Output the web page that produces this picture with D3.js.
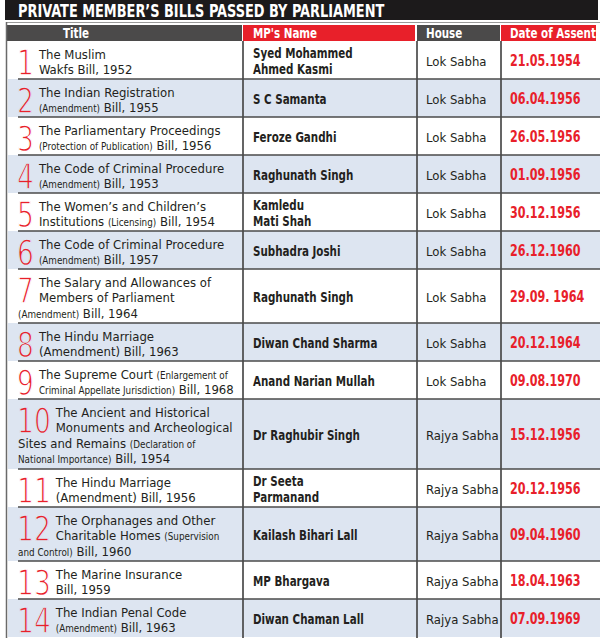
<!DOCTYPE html>
<html>
<head>
<meta charset="utf-8">
<script src="https://cdn.jsdelivr.net/npm/d3@7"></script>
<style>
  body { margin: 0; background: #fff; }
</style>
</head>
<body>
<div id="chart"></div>
<script>
var chartTitle = "PRIVATE MEMBER\u2019S BILLS PASSED BY PARLIAMENT";
var headers = ["Title", "MP's Name", "House", "Date of Assent"];

var billNumbers = ["1","2","3","4","5","6","7","8","9","10","11","12","13","14"];

// {...} marks the small print inside a bill title
var billTitles = [
    ["The Muslim", "Wakfs Bill, 1952"],
    ["The Indian Registration", "{(Amendment)} Bill, 1955"],
    ["The Parliamentary Proceedings", "{(Protection of Publication)} Bill, 1956"],
    ["The Code of Criminal Procedure", "{(Amendment)} Bill, 1953"],
    ["The Women\u2019s and Children\u2019s", "Institutions {(Licensing)} Bill, 1954"],
    ["The Code of Criminal Procedure", "{(Amendment)} Bill, 1957"],
    ["The Salary and Allowances of", "Members of Parliament", "{(Amendment)} Bill, 1964"],
    ["The Hindu Marriage", "(Amendment) Bill, 1963"],
    ["The Supreme Court {(Enlargement of}", "{Criminal Appellate Jurisdiction)} Bill, 1968"],
    ["The Ancient and Historical", "Monuments and Archeological", "Sites and Remains {(Declaration of}", "{National Importance)} Bill, 1954"],
    ["The Hindu Marriage", "(Amendment) Bill, 1956"],
    ["The Orphanages and Other", "Charitable Homes {(Supervision}", "{and Control)} Bill, 1960"],
    ["The Marine Insurance", "Bill, 1959"],
    ["The Indian Penal Code", "{(Amendment)} Bill, 1963"]
];

var mpNames = [
    ["Syed Mohammed", "Ahmed Kasmi"],
    ["S C Samanta"],
    ["Feroze Gandhi"],
    ["Raghunath Singh"],
    ["Kamledu", "Mati Shah"],
    ["Subhadra Joshi"],
    ["Raghunath Singh"],
    ["Diwan Chand Sharma"],
    ["Anand Narian Mullah"],
    ["Dr Raghubir Singh"],
    ["Dr Seeta", "Parmanand"],
    ["Kailash Bihari Lall"],
    ["MP Bhargava"],
    ["Diwan Chaman Lall"]
];

var houses = ["Lok Sabha","Lok Sabha","Lok Sabha","Lok Sabha","Lok Sabha","Lok Sabha","Lok Sabha",
              "Lok Sabha","Lok Sabha","Rajya Sabha","Rajya Sabha","Rajya Sabha","Rajya Sabha","Rajya Sabha"];

var assentDates = ["21.05.1954","06.04.1956","26.05.1956","01.09.1956","30.12.1956","26.12.1960","29.09. 1964",
                   "20.12.1964","09.08.1970","15.12.1956","20.12.1956","09.04.1960","18.04.1963","07.09.1969"];

function init(){

    var w = 600;
    var h = 638;
    var red = "#e8202a";
    var blue = "#dde5f1";
    var ink = "#231f20";
    var lineCol = "#4a4a4a";
    var cond = "'DejaVu Sans Condensed', 'DejaVu Sans', sans-serif";

    // squeeze a text horizontally (no narrow font installed)
    function squeeze(x, y, k){
        return "translate(" + x + "," + y + ") scale(" + k + ",1)";
    }

    // column edges
    var colX = d3.scaleOrdinal().domain(headers).range([7, 243, 417, 501]);
    var colEnd = d3.scaleOrdinal().domain(headers).range([243, 416, 501, 597]);
    var textX = d3.scaleOrdinal().domain(headers).range([63, 253, 426, 510]);

    var bodyTop = 41;
    var heights = billTitles.map(function(t){ return 6 + 16 * t.length; });
    var tops = [bodyTop].concat(Array.from(d3.cumsum(heights), function(c){ return bodyTop + c; }));

    var rows = billNumbers.map(function(n, i){
        return {no: n, title: billTitles[i], name: mpNames[i], house: houses[i], date: assentDates[i],
                y: tops[i], h: heights[i], fill: i % 2 ? blue : "#fff"};
    });

    var svg = d3.select("#chart")
                .append("svg")
                .attr("width", w)
                .attr("height", h);

    // title bar
    svg.append("rect")
       .attr("x", 5).attr("y", 0).attr("width", 593).attr("height", 20)
       .attr("fill", "#1c1a1b");
    svg.append("text")
       .text(chartTitle)
       .attr("transform", squeeze(18, 16.5, 0.845))
       .attr("font-family", cond).attr("font-weight", "bold")
       .attr("font-size", 17).attr("fill", "#fff");

    svg.append("line")
       .attr("x1", 6).attr("x2", 600).attr("y1", 22.5).attr("y2", 22.5)
       .attr("stroke", "#9a9a9a").attr("stroke-width", 1);

    // header row
    svg.selectAll("rect.head")
       .data(headers)
       .enter()
       .append("rect")
       .attr("class", "head")
       .attr("x", function(d){ return colX(d); })
       .attr("y", 25)
       .attr("width", function(d){ return colEnd(d) - colX(d) - 1; })
       .attr("height", bodyTop - 25)
       .attr("fill", function(d, i){ return i % 2 ? red : "#4b4a4a"; });

    svg.selectAll("text.head")
       .data(headers)
       .enter()
       .append("text")
       .attr("class", "head")
       .text(function(d){ return d; })
       .attr("transform", function(d){ return squeeze(textX(d), 37.5, 0.82); })
       .attr("font-family", cond).attr("font-weight", "bold")
       .attr("font-size", 14).attr("fill", "#fff");

    // row backgrounds
    svg.selectAll("rect.row")
       .data(rows)
       .enter()
       .append("rect")
       .attr("class", "row")
       .attr("x", 8)
       .attr("y", function(d){ return d.y; })
       .attr("width", w - 8)
       .attr("height", function(d){ return d.h; })
       .attr("fill", function(d){ return d.fill; });

    var g = svg.selectAll("g.row")
       .data(rows)
       .enter()
       .append("g")
       .attr("class", "row")
       .attr("transform", function(d){ return "translate(0," + d.y + ")"; });

    // big red numbers
    var numK = 0.82;
    g.append("text")
     .attr("class", "num")
     .text(function(d){ return d.no; })
     .attr("transform", squeeze(17, 33.5, numK))
     .attr("font-family", cond)
     .attr("font-size", 36)
     .attr("fill", red)
     .attr("stroke", function(d){ return d.fill; })
     .attr("stroke-width", 1.3);

    // bill titles, line by line
    g.each(function(d){
        var row = d3.select(this);
        var numW = row.select("text.num").node().getComputedTextLength() * numK;
        d.title.forEach(function(line, li){
            var t = row.append("text")
                .attr("x", li >= 2 ? 18 : 17 + numW + 5)
                .attr("y", 17.5 + 15.5 * li)
                .attr("fill", ink);
            line.split(/(\{[^}]*\})/).filter(function(s){ return s.length; }).forEach(function(seg){
                var small = seg.charAt(0) == "{";
                t.append("tspan")
                 .text(small ? seg.slice(1, -1) : seg)
                 .attr("font-family", cond)
                 .attr("font-size", small ? 9.8 : 13);
            });
        });
    });

    // MP names
    g.each(function(d){
        var row = d3.select(this);
        var n = d.name.length;
        d.name.forEach(function(nm, li){
            row.append("text")
               .text(nm)
               .attr("transform", squeeze(textX("MP's Name"), d.h / 2 + 5.5 + (li - (n - 1) / 2) * 16, 0.82))
               .attr("font-family", cond).attr("font-weight", "bold")
               .attr("font-size", 14).attr("fill", ink);
        });
    });

    g.append("text")
     .text(function(d){ return d.house; })
     .attr("x", textX("House"))
     .attr("y", function(d){ return d.h / 2 + 5.5; })
     .attr("font-family", cond)
     .attr("font-size", 13).attr("fill", ink);

    g.append("text")
     .text(function(d){ return d.date; })
     .attr("transform", function(d){ return squeeze(textX("Date of Assent"), d.h / 2 + 6, 0.8); })
     .attr("font-family", cond).attr("font-weight", "bold")
     .attr("font-size", 15.5).attr("fill", red);

    // grid lines
    svg.selectAll("line.rowline")
       .data(rows.slice(0, -1))
       .enter()
       .append("line")
       .attr("class", "rowline")
       .attr("x1", 18).attr("x2", w)
       .attr("y1", function(d){ return d.y + d.h; })
       .attr("y2", function(d){ return d.y + d.h; })
       .attr("stroke", lineCol).attr("stroke-width", 1.7);

    svg.selectAll("line.colline")
       .data(headers.slice(1))
       .enter()
       .append("line")
       .attr("class", "colline")
       .attr("x1", function(d){ return colX(d); })
       .attr("x2", function(d){ return colX(d); })
       .attr("y1", bodyTop).attr("y2", h)
       .attr("stroke", lineCol).attr("stroke-width", 1.7);

    svg.append("line")
       .attr("x1", 6.5).attr("x2", 6.5).attr("y1", 22).attr("y2", h)
       .attr("stroke", "#6a6a6a").attr("stroke-width", 1.5);
}
window.onload = init;
</script>
</body>
</html>
